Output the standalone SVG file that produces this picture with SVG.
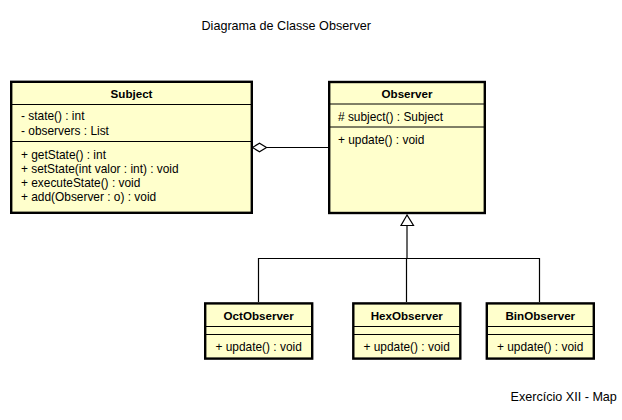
<svg xmlns="http://www.w3.org/2000/svg" width="622" height="420" viewBox="0 0 622 420">
<style>
.box{fill:#ffffcc;stroke:#000;stroke-width:2.4}
.sep{stroke:#000;stroke-width:1;fill:none}
.t{font-family:"Liberation Sans",Arial,sans-serif;font-size:11.9px;fill:#000}
.h{font-family:"Liberation Sans",Arial,sans-serif;font-size:11.6px;font-weight:bold;fill:#000;text-anchor:middle}
.lbl{font-family:"Liberation Sans",Arial,sans-serif;font-size:12.6px;fill:#000}
.ln{stroke:#000;stroke-width:1.2;fill:none}
</style>
<rect width="622" height="420" fill="#fff"/>
<text class="lbl" x="201.5" y="29.5">Diagrama de Classe Observer</text>
<text class="lbl" x="510.5" y="401">Exercício XII - Map</text>
<g id="connectors">
<line class="ln" x1="266.5" y1="147.5" x2="328" y2="147.5"/>
<polygon points="252.5,147.5 259.5,143.2 266.5,147.5 259.5,151.8" fill="#fff" stroke="#000" stroke-width="1.2"/>
<polygon points="407,215 401,225.5 413.5,225.5" fill="#fff" stroke="#000" stroke-width="1.2"/>
<line class="ln" x1="407" y1="225.5" x2="407" y2="258.5"/>
<polyline class="ln" points="258.5,302 258.5,258.5 539.5,258.5 539.5,302"/>
<line class="ln" x1="406.5" y1="258.5" x2="406.5" y2="302"/>
</g>
<g id="subject">
<rect class="box" x="11.2" y="81.8" width="240.6" height="131"/>
<line class="sep" x1="11" y1="104.5" x2="252" y2="104.5"/>
<line class="sep" x1="11" y1="141.5" x2="252" y2="141.5"/>
<text class="h" x="131.5" y="97.5">Subject</text>
<text class="t" x="21" y="120">- state() : int</text>
<text class="t" x="21" y="134.5">- observers : List</text>
<text class="t" x="21" y="159">+ getState() : int</text>
<text class="t" x="21" y="173">+ setState(int valor : int) : void</text>
<text class="t" x="21" y="187.2">+ executeState() : void</text>
<text class="t" x="21" y="201.3">+ add(Observer : o) : void</text>
</g>
<g id="observer">
<rect class="box" x="329.2" y="82" width="155.6" height="131"/>
<line class="sep" x1="329" y1="104" x2="485" y2="104"/>
<line class="sep" x1="329" y1="127" x2="485" y2="127"/>
<text class="h" x="407" y="97.5">Observer</text>
<text class="t" x="338" y="120.5"># subject() : Subject</text>
<text class="t" x="338" y="143.5">+ update() : void</text>
</g>
<g id="octobserver">
<rect class="box" x="205.2" y="303.4" width="107" height="55.2"/>
<line class="sep" x1="205" y1="326.5" x2="312" y2="326.5"/>
<line class="sep" x1="205" y1="334.5" x2="312" y2="334.5"/>
<text class="h" x="258.7" y="320">OctObserver</text>
<text class="t" x="215.5" y="350.5">+ update() : void</text>
</g>
<g id="hexobserver">
<rect class="box" x="353.3" y="303.4" width="107" height="55.2"/>
<line class="sep" x1="353" y1="326.5" x2="460" y2="326.5"/>
<line class="sep" x1="353" y1="334.5" x2="460" y2="334.5"/>
<text class="h" x="406.8" y="320">HexObserver</text>
<text class="t" x="363.5" y="350.5">+ update() : void</text>
</g>
<g id="binobserver">
<rect class="box" x="486.8" y="303.4" width="107" height="55.2"/>
<line class="sep" x1="486" y1="326.5" x2="594" y2="326.5"/>
<line class="sep" x1="486" y1="334.5" x2="594" y2="334.5"/>
<text class="h" x="540.3" y="320">BinObserver</text>
<text class="t" x="497" y="350.5">+ update() : void</text>
</g>
</svg>
